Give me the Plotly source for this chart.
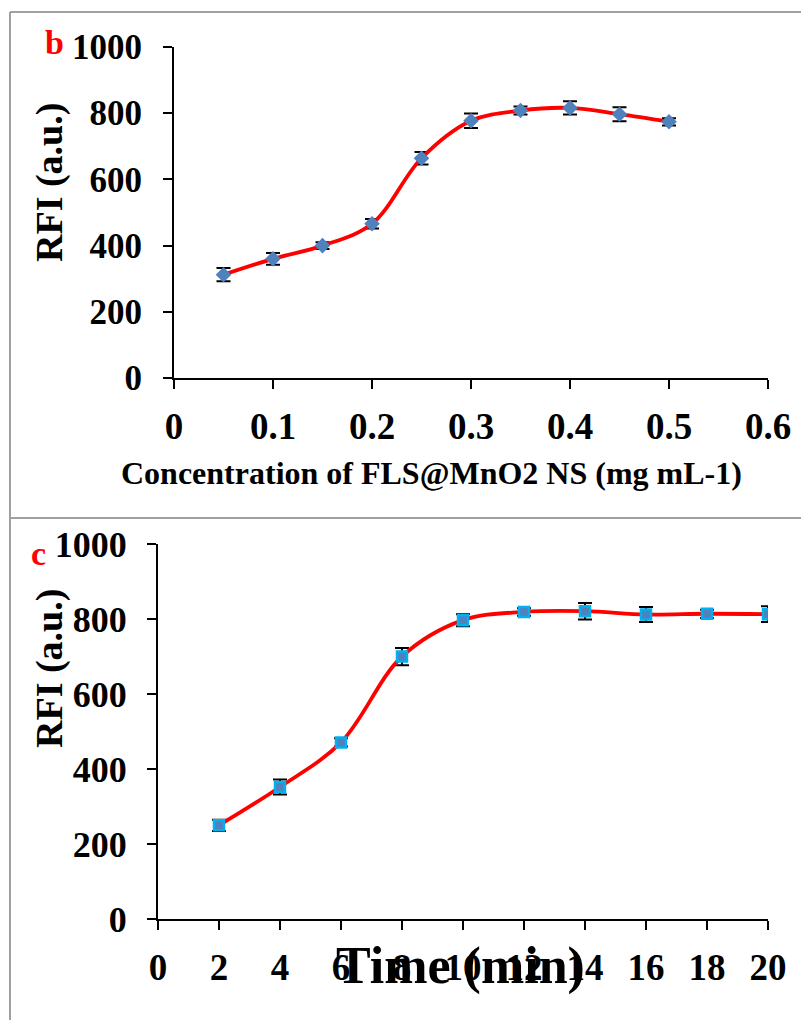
import plotly.graph_objects as go

# Panel b: fluorescence vs. nanosheet concentration
conc = [0.05, 0.10, 0.15, 0.20, 0.25, 0.30, 0.35, 0.40, 0.45, 0.50]
rfi_conc = [312, 360, 400, 466, 664, 777, 808, 816, 797, 774]
err_conc = [20, 18, 10, 14, 19, 22, 12, 20, 21, 11]

# Panel c: fluorescence vs. incubation time
time_min = [2, 4, 6, 8, 10, 12, 14, 16, 18, 20]
rfi_time = [250, 352, 471, 700, 797, 819, 821, 812, 814, 813]
err_time = [15, 20, 11, 23, 16, 10, 22, 20, 11, 21]

xticks_b = [0, 0.1, 0.2, 0.3, 0.4, 0.5, 0.6]
xticks_c = [0, 2, 4, 6, 8, 10, 12, 14, 16, 18, 20]
yticks = [0, 200, 400, 600, 800, 1000]

W, H = 801, 1020
FONT = "Liberation Serif"

def tickfont(size):
    return dict(family=FONT, size=size, color="black", weight="bold")

def px(x):
    return x / W

def py(y):
    return 1 - y / H

fig = go.Figure()

fig.add_trace(go.Scatter(
    x=conc, y=rfi_conc, mode="lines+markers",
    line=dict(color="#ff0000", width=3.8, shape="spline", smoothing=1),
    marker=dict(symbol="diamond", size=12, color="#4f81bd"),
    error_y=dict(type="data", array=err_conc, color="black", thickness=2, width=7),
    xaxis="x", yaxis="y", showlegend=False,
))

fig.add_trace(go.Scatter(
    x=time_min, y=rfi_time, mode="lines+markers",
    line=dict(color="#ff0000", width=3.8, shape="spline", smoothing=1),
    marker=dict(symbol="square", size=10, color="#4f81bd",
                line=dict(color="#00b0f0", width=2.5)),
    error_y=dict(type="data", array=err_time, color="black", thickness=2, width=7),
    xaxis="x2", yaxis="y2", showlegend=False,
))

axis_common = dict(
    showgrid=False, zeroline=False, showline=True, linecolor="black",
    linewidth=2, ticks="outside", ticklen=9, tickwidth=2, tickcolor="black",
    automargin=False,
)

fig.update_layout(
    width=W, height=H,
    margin=dict(l=0, r=0, t=0, b=0, autoexpand=False),
    paper_bgcolor="white", plot_bgcolor="white",
    xaxis=dict(domain=[px(174), px(768)], range=[0, 0.6], tickvals=xticks_b,
               ticktext=["0", "0.1", "0.2", "0.3", "0.4", "0.5", "0.6"],
               anchor="y", ticklabelstandoff=6, tickfont=tickfont(37),
               **axis_common),
    yaxis=dict(domain=[py(378), py(47)], range=[0, 1000], tickvals=yticks,
               anchor="x", ticklabelstandoff=14, tickfont=tickfont(35),
               **axis_common),
    xaxis2=dict(domain=[px(158), px(768)], range=[0, 20], tickvals=xticks_c,
                anchor="y2", ticklabelstandoff=6, tickfont=tickfont(37),
                **axis_common),
    yaxis2=dict(domain=[py(919), py(544)], range=[0, 1000], tickvals=yticks,
                anchor="x2", ticklabelstandoff=13, tickfont=tickfont(36),
                **axis_common),
)

# Panel frames
border = dict(color="#a0a0a0", width=2)
fig.add_shape(type="line", xref="paper", yref="paper",
              x0=px(10), x1=1, y0=py(12), y1=py(12), line=border)
fig.add_shape(type="line", xref="paper", yref="paper",
              x0=px(10), x1=1, y0=py(518), y1=py(518), line=border)
fig.add_shape(type="line", xref="paper", yref="paper",
              x0=px(10), x1=px(10), y0=py(12), y1=0, line=border)

def label(text, x, y, size, color="black", angle=0):
    fig.add_annotation(text=text, xref="paper", yref="paper",
                       x=px(x), y=py(y), showarrow=False, textangle=angle,
                       xanchor="center", yanchor="middle",
                       font=dict(family=FONT, size=size, color=color))

label("<b>b</b>", 54, 43, 34, color="#ff0000")
label("<b>c</b>", 38, 553, 34, color="#ff0000")
label("<b>RFI (a.u.)</b>", 49, 183, 38, angle=-90)
label("<b>RFI (a.u.)</b>", 49, 669, 38, angle=-90)
label("<b>Concentration of FLS@MnO2 NS (mg mL-1)</b>", 431, 473, 32)
label("<b>Time (min)</b>", 461, 966, 52)

fig.write_html("out.html")
